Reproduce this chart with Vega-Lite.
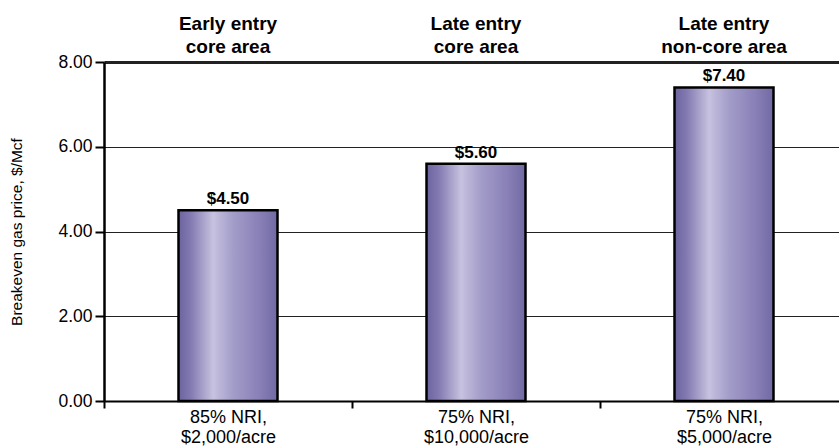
{
  "$schema": "https://vega.github.io/schema/vega-lite/v6.json",
  "width": 735,
  "height": 339,
  "autosize": {"type": "none"},
  "padding": {"left": 104, "top": 62, "right": 0, "bottom": 46},
  "background": "white",
  "config": {
    "font": "Liberation Sans",
    "view": {"stroke": null}
  },
  "data": {
    "values": [
      {"case": "A", "header": "Early entry\ncore area", "price": 4.5, "label": "$4.50"},
      {"case": "B", "header": "Late entry\ncore area", "price": 5.6, "label": "$5.60"},
      {"case": "C", "header": "Late entry\nnon-core area", "price": 7.4, "label": "$7.40"}
    ]
  },
  "encoding": {
    "x": {
      "field": "case",
      "type": "nominal",
      "sort": null,
      "scale": {"range": [0, 744], "paddingInner": 0, "paddingOuter": 0},
      "axis": {
        "title": null,
        "labelAngle": 0,
        "tickBand": "extent",
        "domainColor": "black",
        "domainWidth": 2,
        "tickColor": "black",
        "tickWidth": 2,
        "tickSize": 7,
        "labelFontSize": 18,
        "labelColor": "black",
        "labelPadding": 0,
        "labelLineHeight": 20,
        "labelBaseline": "top",
        "labelExpr": "datum.value == 'A' ? ['85% NRI,', '$2,000/acre'] : datum.value == 'B' ? ['75% NRI,', '$10,000/acre'] : datum.value == 'C' ? ['75% NRI,', '$5,000/acre'] : ''"
      }
    }
  },
  "layer": [
    {
      "mark": {
        "type": "bar",
        "size": 99,
        "stroke": "black",
        "strokeWidth": 2.5,
        "color": {
          "gradient": "linear",
          "x1": 0, "x2": 1, "y1": 0, "y2": 0,
          "stops": [
            {"offset": 0, "color": "#6c649e"},
            {"offset": 0.12, "color": "#8279b1"},
            {"offset": 0.35, "color": "#c6c2df"},
            {"offset": 0.55, "color": "#a39dc9"},
            {"offset": 0.8, "color": "#8a82b8"},
            {"offset": 1, "color": "#716aa3"}
          ]
        }
      },
      "encoding": {
        "y": {
          "field": "price",
          "type": "quantitative",
          "scale": {"domain": [0, 8], "nice": false},
          "axis": {
            "title": "Breakeven gas price, $/Mcf",
            "titleFontSize": 15.5,
            "titleFontWeight": "normal",
            "titleColor": "black",
            "titlePadding": 33,
            "values": [0, 2, 4, 6, 8],
            "format": ".2f",
            "labelFontSize": 17.5,
            "labelColor": "black",
            "labelPadding": 3,
            "domainColor": "black",
            "domainWidth": 2.5,
            "tickColor": "black",
            "tickWidth": 2,
            "tickSize": 9,
            "grid": true,
            "gridColor": "#222222",
            "gridWidth": {"condition": {"test": "datum.value == 8", "value": 3}, "value": 1},
            "gridOpacity": 1
          }
        }
      }
    },
    {
      "mark": {"type": "text", "fontSize": 17, "fontWeight": "bold", "baseline": "alphabetic", "dy": -6, "color": "black"},
      "encoding": {
        "y": {"field": "price", "type": "quantitative"},
        "text": {"field": "label"}
      }
    },
    {
      "mark": {"type": "text", "fontSize": 19, "fontWeight": "bold", "baseline": "alphabetic", "dy": -32, "lineBreak": "\n", "lineHeight": 23, "color": "black"},
      "encoding": {
        "y": {"datum": 8, "type": "quantitative"},
        "text": {"field": "header"}
      }
    }
  ]
}
